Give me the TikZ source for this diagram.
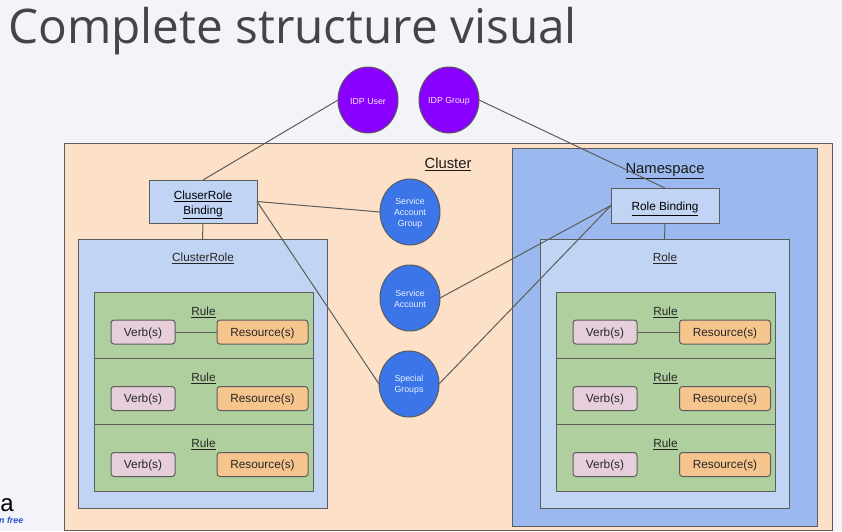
\documentclass[tikz,border=0pt]{standalone}
\usepackage{fontspec}
\setmainfont{Liberation Sans}
\newfontfamily\titlefont{Open Sans}
\usetikzlibrary{shapes.geometric, positioning}
\definecolor{pageBg}{HTML}{F3F4FA}
\definecolor{edgeGray}{HTML}{5C5C5C}
\definecolor{clusterFill}{HTML}{FCE1C8}
\definecolor{nsFill}{HTML}{9BB9EE}
\definecolor{roleFill}{HTML}{C1D4F4}
\definecolor{ruleFill}{HTML}{AFD09E}
\definecolor{verbFill}{HTML}{E6CEDB}
\definecolor{resFill}{HTML}{F6C58E}
\definecolor{idpFill}{HTML}{8A00FF}
\definecolor{subjFill}{HTML}{3B75E8}
\definecolor{titleInk}{HTML}{444444}
\definecolor{promoBlue}{HTML}{2A4FD0}
\tikzset{
    frameBox/.style={rectangle, draw=edgeGray, line width=1pt, inner sep=0pt, outer sep=0pt},
    ruleBox/.style={frameBox, fill=ruleFill, minimum width=219pt, minimum height=66.5pt},
    bindBox/.style={frameBox, fill=roleFill, minimum width=108pt, align=center, font=\fontsize{11.8}{14.5}\selectfont},
    pillBox/.style={rectangle, rounded corners=3pt, draw=edgeGray, line width=1pt, inner sep=0pt, outer sep=0pt, minimum height=24pt, text=black!85, text height=11pt, font=\fontsize{11.8}{14}\selectfont},
    verbBox/.style={pillBox, fill=verbFill, minimum width=64pt},
    resBox/.style={pillBox, fill=resFill, minimum width=91pt},
    subjIdp/.style={ellipse, draw=edgeGray, line width=1pt, fill=idpFill, inner sep=0pt, outer sep=0pt, minimum width=60pt, minimum height=66pt, text=white!90!idpFill, align=center, font=\fontsize{8.8}{11}\selectfont},
    subjBlue/.style={subjIdp, fill=subjFill, text=white!90!subjFill},
    tagText/.style={inner sep=0pt, text=black!85, font=\fontsize{11.8}{14}\selectfont},
    bigTag/.style={inner sep=0pt, text=black!90, font=\fontsize{14.8}{18}\selectfont},
    linkEdge/.style={draw=edgeGray, line width=1pt},
}
\newcommand{\utext}[1]{\underline{#1}}
\newcommand{\topPad}[1]{\rule{0pt}{#1}}
\newcommand{\drawRule}[5]{
    \node[ruleBox] (#1rule) at (#2, #5) {};
    \node[tagText, anchor=center] (#1tag) at (#2, #5-13.5) {\utext{Rule}};
    \node[verbBox] (#1verb) at (#3, #5+6.5) {Verb(s)};
    \node[resBox] (#1res) at (#4, #5+6.5) {Resource(s)};
}
\newcommand{\chanLink}[2]{\draw[linkEdge] (#1) -- (#2);}

\begin{document}
\begin{tikzpicture}[x=1pt, y=-1pt]

    % page
    \path[fill=pageBg, use as bounding box] (0, 0) rectangle (842, 531);
    \node[anchor=base west, inner sep=0pt, text=titleInk, font=\titlefont\fontsize{47.7}{52}\selectfont] (title) at (8, 43) {Complete structure visual};
    \node[anchor=base, inner sep=0pt, font=\fontsize{24}{24}\selectfont] (logoA) at (7, 511) {a};
    \node[anchor=base west, inner sep=0pt, text=promoBlue, font=\bfseries\itshape\fontsize{8.8}{10}\selectfont] (promo) at (-1, 523) {n free};

    % boxes
    \node[frameBox, fill=clusterFill, minimum width=768pt, minimum height=387pt] (cluster) at (448, 336.5) {};
    \node[bigTag] (clusterTag) at (448, 164) {\utext{Cluster}};
    \node[frameBox, fill=nsFill, minimum width=305pt, minimum height=378pt] (ns) at (664.5, 337) {};
    \node[bigTag] (nsTag) at (665, 171) {\utext{Namespace}};

    \node[bindBox, minimum height=43pt] (crBinding) at (203, 201.5) {\topPad{15.3pt}\utext{CluserRole}\\\utext{Binding}};
    \node[frameBox, fill=roleFill, minimum width=249pt, minimum height=269pt] (clusterRole) at (202.5, 373.5) {};
    \node[tagText] (clusterRoleTag) at (203, 258) {\utext{ClusterRole}};

    \node[bindBox, minimum height=35pt] (roleBinding) at (665, 205.5) {\topPad{15.3pt}\utext{Role Binding}};
    \node[frameBox, fill=roleFill, minimum width=249pt, minimum height=269pt] (role) at (664.5, 373.5) {};
    \node[tagText] (roleTag) at (665, 258) {\utext{Role}};

    \drawRule{la}{203.5}{143}{262.5}{325.5}
    \drawRule{lb}{203.5}{143}{262.5}{392}
    \drawRule{lc}{203.5}{143}{262.5}{458}
    \drawRule{ra}{665.5}{605}{725}{325.5}
    \drawRule{rb}{665.5}{605}{725}{392}
    \drawRule{rc}{665.5}{605}{725}{458}

    % subjects
    \node[subjIdp] (idpUser) at (368, 100) {\topPad{8.4pt}IDP User};
    \node[subjIdp] (idpGroup) at (449, 100) {\topPad{8.4pt}IDP Group};
    \node[subjBlue] (saGroup) at (410, 212) {\topPad{8.4pt}Service\\Account\\Group};
    \node[subjBlue] (sa) at (410, 298) {\topPad{8.4pt}Service\\Account};
    \node[subjBlue] (special) at (409, 384) {\topPad{8.4pt}Special\\Groups};

    % links
    \chanLink{idpUser.west}{crBinding.north}
    \chanLink{idpGroup.east}{roleBinding.north}
    \chanLink{crBinding.east}{saGroup.west}
    \chanLink{crBinding.east}{special.west}
    \chanLink{crBinding.south}{clusterRole.north}
    \chanLink{roleBinding.west}{sa.east}
    \chanLink{roleBinding.west}{special.east}
    \chanLink{roleBinding.south}{role.north}
    \chanLink{laverb.east}{lares.west}
    \chanLink{raverb.east}{rares.west}

\end{tikzpicture}
\end{document}
